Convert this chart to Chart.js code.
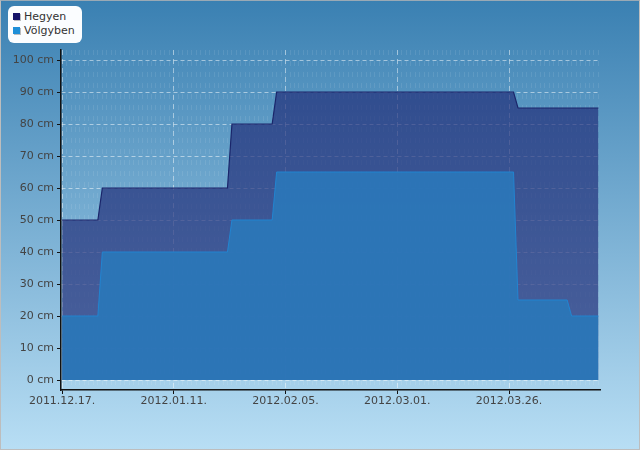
<!DOCTYPE html>
<html>
<head>
<meta charset="utf-8">
<script src="https://cdn.jsdelivr.net/npm/chart.js@4.4.0/dist/chart.umd.min.js"></script>
<style>
  html, body { margin: 0; padding: 0; }
  #wrap {
    position: relative;
    width: 640px;
    height: 450px;
    background: linear-gradient(to bottom, #3a80b2 0%, #b8def4 100%);
  }
  #frame {
    position: absolute; left: 0; top: 0; width: 638px; height: 448px;
    border: 1px solid #bdbdbd; border-top-color: #9aa9b5; pointer-events: none;
  }
  #legend {
    position: absolute; left: 8px; top: 6px; width: 74px; height: 37px;
    background: #fbfdff; border-radius: 6px;
    font: 11px 'DejaVu Sans', sans-serif; color: #333;
  }
  #legend div { position: absolute; left: 5px; height: 13px; line-height: 13px; white-space: nowrap; }
  #legend span.sw {
    display: inline-block; width: 7px; height: 7px; margin-right: 4px;
    box-shadow: 1px 1px 0 rgba(0,0,0,0.25); vertical-align: 0px;
  }
</style>
</head>
<body>
<div id="wrap">
  <canvas id="chart"></canvas>
  <div id="legend"></div>
  <div id="frame"></div>
</div>
<script>
// data (water depth in cm)
const startDate = '2011-12-17';
const endDate = '2012-04-15';

const hegyenDates = ['2011-12-17', '2011-12-25', '2011-12-26', '2012-01-23', '2012-01-24',
                     '2012-02-02', '2012-02-03', '2012-03-27', '2012-03-28', '2012-04-15'];
const hegyenValues = [50, 50, 60, 60, 80, 80, 90, 90, 85, 85];

const volgybenDates = ['2011-12-17', '2011-12-25', '2011-12-26', '2012-01-23', '2012-01-24',
                       '2012-02-02', '2012-02-03', '2012-03-27', '2012-03-28', '2012-04-08',
                       '2012-04-09', '2012-04-15'];
const volgybenValues = [20, 20, 40, 40, 50, 50, 65, 65, 25, 25, 20, 20];

const xTickDates = ['2011-12-17', '2012-01-11', '2012-02-05', '2012-03-01', '2012-03-26'];
const yTicks = [0, 10, 20, 30, 40, 50, 60, 70, 80, 90, 100];

const seriesNames = ['Hegyen', 'Völgyben'];
const seriesColors = ['#16146a', '#1e8fd8'];

const DAY = 86400000;
function dayIndex(s) {
    const p = s.split('-').map(Number);
    return Math.round((Date.UTC(p[0], p[1] - 1, p[2]) - Date.UTC(2011, 11, 17)) / DAY);
}
function formatDay(n) {
    const d = new Date(Date.UTC(2011, 11, 17) + n * DAY);
    const mm = String(d.getUTCMonth() + 1).padStart(2, '0');
    const dd = String(d.getUTCDate()).padStart(2, '0');
    return d.getUTCFullYear() + '.' + mm + '.' + dd + '.';
}
function toPoints(dates, values) {
    return dates.map((d, i) => ({ x: dayIndex(d), y: values[i] }));
}

const firstDay = dayIndex(startDate);
const lastDay = dayIndex(endDate);

// legend
const legend = document.getElementById('legend');
seriesNames.forEach((name, i) => {
    const row = document.createElement('div');
    row.style.top = (4 + i * 14) + 'px';
    row.innerHTML = '<span class="sw" style="background:' + seriesColors[i] + '"></span>' + name;
    legend.appendChild(row);
});

Chart.defaults.font.family = "'DejaVu Sans', sans-serif";
Chart.defaults.font.size = 11;
Chart.defaults.color = '#444';

const ctx = document.getElementById('chart').getContext('2d');
new Chart(ctx, {
    type: 'line',
    data: {
        datasets: [{
            label: seriesNames[0],
            data: toPoints(hegyenDates, hegyenValues),
            fill: 'origin',
            backgroundColor: 'rgba(32, 44, 120, 0.68)',
            borderColor: '#1a256a',
            borderWidth: 1.2,
            pointRadius: 0,
            tension: 0,
            order: 2
        }, {
            label: seriesNames[1],
            data: toPoints(volgybenDates, volgybenValues),
            fill: 'origin',
            backgroundColor: 'rgba(44, 118, 184, 0.97)',
            borderColor: '#2184d0',
            borderWidth: 1,
            pointRadius: 0,
            tension: 0,
            order: 1
        }]
    },
    options: {
        responsive: true,
        maintainAspectRatio: false,
        animation: false,
        layout: {
            padding: { left: 0, right: 40, top: 50, bottom: 0 }
        },
        plugins: {
            legend: { display: false },
            tooltip: { enabled: false }
        },
        scales: {
            x: {
                type: 'linear',
                position: 'bottom',
                min: firstDay - 0.25,
                max: lastDay + 0.35,
                afterBuildTicks: function(scale) {
                    scale.ticks = xTickDates.map(d => ({ value: dayIndex(d) }));
                },
                afterFit: function(scale) { scale.height = 60; },
                ticks: {
                    color: '#444',
                    padding: 1,
                    maxRotation: 0,
                    autoSkip: false,
                    callback: function(value) { return formatDay(value); }
                },
                grid: {
                    color: 'rgba(255, 255, 255, 0.45)',
                    tickColor: '#111',
                    tickLength: 4,
                    lineWidth: 1
                },
                border: { display: true, color: '#111', width: 1.5, dash: [5, 4] }
            },
            xMinor: {
                type: 'linear',
                position: 'top',
                min: firstDay - 0.25,
                max: lastDay + 0.35,
                afterBuildTicks: function(scale) {
                    const t = [];
                    for (let d = firstDay; d <= lastDay; d++) t.push({ value: d });
                    scale.ticks = t;
                },
                afterFit: function(scale) { scale.height = 0; },
                ticks: { display: false },
                grid: {
                    color: 'rgba(255, 255, 255, 0.09)',
                    drawTicks: false,
                    lineWidth: 1
                },
                border: { display: false, dash: [5, 6] }
            },
            y: {
                min: -3.125,
                max: 103.125,
                afterBuildTicks: function(scale) {
                    scale.ticks = yTicks.map(v => ({ value: v }));
                },
                afterFit: function(scale) { scale.width = 61; },
                ticks: {
                    color: '#444',
                    padding: 3,
                    callback: function(value) { return value + ' cm'; }
                },
                grid: {
                    color: 'rgba(255, 255, 255, 0.5)',
                    tickColor: '#111',
                    tickLength: 4,
                    lineWidth: 1
                },
                border: { display: true, color: '#111', width: 1.5, dash: [4, 3] }
            }
        }
    }
});
</script>
</body>
</html>
